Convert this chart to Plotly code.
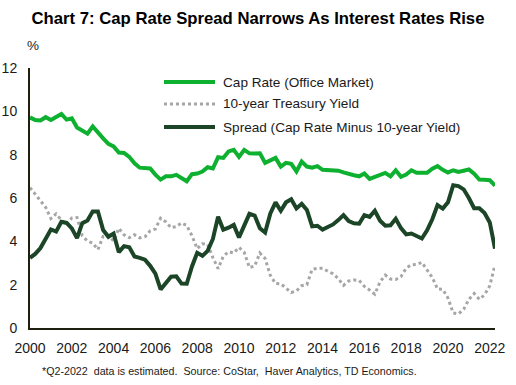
import plotly.graph_objects as go

# Quarterly data, 2000 Q1 .. 2022 Q2
quarters = [f"{y}Q{q}" for y in range(2000, 2023) for q in range(1, 5)][:90]

cap_rate = [
    9.72, 9.60, 9.58, 9.73, 9.60, 9.72, 9.88, 9.62, 9.68, 9.25,
    9.10, 8.97, 9.30, 9.00, 8.75, 8.50, 8.38, 8.10, 8.08, 7.90,
    7.60, 7.40, 7.36, 7.36, 7.08, 6.85, 7.00, 7.00, 7.07, 6.90,
    6.77, 7.10, 7.13, 7.22, 7.42, 7.36, 7.88, 7.85, 8.15, 8.22,
    7.90, 8.22, 8.06, 8.05, 8.06, 7.62, 7.72, 7.85, 7.45, 7.62,
    7.58, 7.23, 7.68, 7.45, 7.40, 7.47, 7.30, 7.28, 7.28, 7.26,
    7.18, 7.10, 7.05, 7.00, 7.13, 6.88, 6.97, 7.08, 7.16, 7.00,
    7.28, 6.98, 7.08, 7.28, 7.16, 7.16, 7.16, 7.35, 7.47, 7.30,
    7.18, 7.28, 7.20, 7.26, 7.32, 7.12, 6.85, 6.84, 6.82, 6.57,
]

treasury = [
    6.48, 6.18, 5.89, 5.57, 5.05, 5.27, 4.98, 4.77, 5.08, 5.10,
    4.26, 4.01, 3.92, 3.62, 4.23, 4.29, 4.02, 4.60, 4.30, 4.17,
    4.30, 4.16, 4.21, 4.49, 4.57, 5.07, 4.90, 4.63, 4.68, 4.85,
    4.73, 4.26, 3.66, 3.89, 3.86, 3.25, 2.74, 3.31, 3.52, 3.46,
    3.72, 3.49, 2.79, 2.86, 3.46, 3.21, 2.43, 2.05, 2.04, 1.82,
    1.64, 1.71, 1.95, 2.00, 2.71, 2.75, 2.76, 2.62, 2.50, 2.28,
    1.97, 2.17, 2.22, 2.19, 1.92, 1.75, 1.56, 2.13, 2.44, 2.26,
    2.24, 2.37, 2.76, 2.92, 2.93, 3.03, 2.65, 2.33, 1.80, 1.79,
    1.38, 0.69, 0.65, 0.86, 1.32, 1.59, 1.32, 1.53, 1.95, 2.91,
]

spread = [
    3.24, 3.42, 3.69, 4.16, 4.55, 4.45, 4.90, 4.85, 4.60, 4.15,
    4.84, 4.96, 5.38, 5.38, 4.52, 4.21, 4.36, 3.50, 3.78, 3.73,
    3.30, 3.24, 3.15, 2.87, 2.51, 1.78, 2.10, 2.37, 2.39, 2.05,
    2.04, 2.84, 3.47, 3.33, 3.56, 4.11, 5.14, 4.54, 4.63, 4.76,
    4.18, 4.73, 5.27, 5.19, 4.60, 4.41, 5.29, 5.80, 5.41, 5.80,
    5.94, 5.52, 5.73, 5.45, 4.69, 4.72, 4.54, 4.66, 4.78, 4.98,
    5.21, 4.93, 4.83, 4.81, 5.21, 5.13, 5.41, 4.95, 4.72, 4.74,
    5.04, 4.61, 4.32, 4.36, 4.23, 4.13, 4.51, 5.02, 5.67, 5.51,
    5.80, 6.59, 6.55, 6.40, 6.00, 5.53, 5.53, 5.31, 4.87, 3.66,
]

series_names = [
    "Cap Rate (Office Market)",
    "10-year Treasury Yield",
    "Spread (Cap Rate Minus 10-year Yield)",
]
x_tick_years = list(range(2000, 2023, 2))
y_ticks = list(range(0, 13, 2))

# decimal-year x positions derived from the quarter labels
x = [int(q[:4]) + (int(q[-1]) - 1) / 4 for q in quarters]

C_CAP = "#0DB02F"
C_TSY = "#A6A6A6"
C_SPR = "#1B4526"
C_AX = "#1F1F10"
FONT = "Liberation Sans, Arial, sans-serif"

fig = go.Figure()
fig.add_trace(go.Scatter(x=x, y=treasury, mode="lines", name=series_names[1],
                         line=dict(color=C_TSY, width=3, dash="3px,3px")))
fig.add_trace(go.Scatter(x=x, y=cap_rate, mode="lines", name=series_names[0],
                         line=dict(color=C_CAP, width=4)))
fig.add_trace(go.Scatter(x=x, y=spread, mode="lines", name=series_names[2],
                         line=dict(color=C_SPR, width=4)))

L, R, T, B = 30, 21, 68, 57
W, H = 516, 385
pw, ph = W - L - R, H - T - B

def px(xp):
    return (xp - L) / pw

def py(yp):
    return (H - B - yp) / ph

# custom legend
leg_rows = [(82, series_names[0], C_CAP, "solid", 4),
            (104, series_names[1], C_TSY, "3px,3px", 3),
            (127, series_names[2], C_SPR, "solid", 4)]
shapes = []
annotations = []
for yy, name, col, dash, w in leg_rows:
    shapes.append(dict(type="line", xref="paper", yref="paper",
                       x0=px(164), x1=px(215), y0=py(yy), y1=py(yy),
                       line=dict(color=col, width=w, dash=dash)))
    annotations.append(dict(xref="paper", yref="paper", x=px(221), y=py(yy),
                            xanchor="left", yanchor="middle", showarrow=False,
                            text=name, font=dict(family=FONT, size=13.6, color="#1a1a1a")))

annotations.append(dict(xref="paper", yref="paper", x=px(33), y=py(45),
                        xanchor="center", yanchor="middle", showarrow=False,
                        text="%", font=dict(family=FONT, size=13.5, color="#1a1a1a")))
annotations.append(dict(xref="paper", yref="paper", x=px(40), y=py(371),
                        xanchor="left", yanchor="middle", showarrow=False,
                        text="*Q2-2022\u00a0 data is estimated.\u00a0 Source: CoStar,\u00a0 Haver Analytics, TD Economics.",
                        font=dict(family=FONT, size=10.7, color="#1a1a1a")))

fig.update_layout(
    width=W, height=H, autosize=False,
    margin=dict(l=L, r=R, t=T, b=B, pad=0, autoexpand=False),
    paper_bgcolor="white", plot_bgcolor="white",
    showlegend=False,
    title=dict(text="<b>Chart 7: Cap Rate Spread Narrows As Interest Rates Rise</b>",
               x=0.5, xref="container", xanchor="center",
               y=1 - 18 / H, yref="container", yanchor="middle", automargin=False,
               font=dict(family=FONT, size=16.7, color="#000000")),
    font=dict(family=FONT, size=14, color="#1a1a1a"),
    shapes=shapes,
    annotations=annotations,
)
fig.update_xaxes(range=[2000, 2022.25], tickvals=x_tick_years,
                 ticktext=[str(v) for v in x_tick_years],
                 showgrid=False, zeroline=False, showline=True, automargin=False,
                 linecolor=C_AX, linewidth=2, ticks="", ticklabelstandoff=6,
                 tickfont=dict(family=FONT, size=14, color="#1a1a1a"))
fig.update_yaxes(range=[0, 12], tickvals=y_ticks,
                 showgrid=False, zeroline=False, showline=True, automargin=False,
                 linecolor=C_AX, linewidth=2, ticks="", ticklabelstandoff=8,
                 tickfont=dict(family=FONT, size=14, color="#1a1a1a"))

fig.write_html("out.html", config={"displayModeBar": False},
               post_script="document.body.style.margin='0';document.body.style.padding='0';document.documentElement.style.overflow='hidden';")
